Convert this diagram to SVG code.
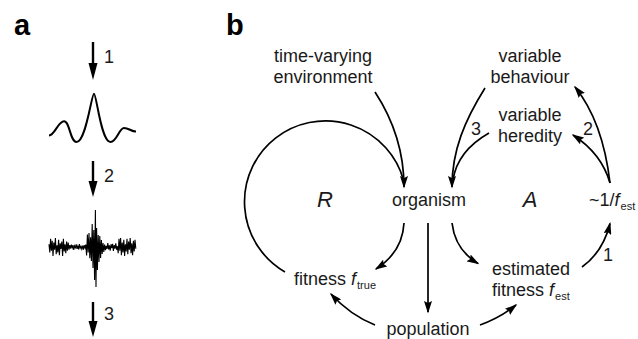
<svg xmlns="http://www.w3.org/2000/svg" width="638" height="339" viewBox="0 0 638 339">
<defs>
<style>
.t{font-family:"Liberation Sans",Arial,sans-serif;font-size:18px;fill:#1a1a1a}
.big{font-size:22px;font-style:italic}
.lbl{font-family:"Liberation Sans",Arial,sans-serif;font-size:29px;font-weight:bold;fill:#000}
.sub{font-size:11px}
.c{fill:none;stroke:#000;stroke-width:1.7}
.ca{fill:none;stroke:#000;stroke-width:1.7;marker-end:url(#ah)}
.pa{fill:none;stroke:#000;stroke-width:2.4}
.head{fill:#000}
</style>
<marker id="ah" markerUnits="userSpaceOnUse" markerWidth="13" markerHeight="8" refX="11" refY="4" orient="auto">
<path d="M0,0 L12.5,4 L0,8 L2,4 z" fill="#000"/>
</marker>
</defs>
<rect width="638" height="339" fill="#fff"/>

<g id="panel-a">
<text class="lbl" x="14" y="35">a</text>
<line class="pa" x1="93" y1="42" x2="93" y2="66"/>
<polygon class="head" points="88.5,63 97.5,63 93,80"/>
<text class="t" x="104" y="63">1</text>
<path d="M49,135.5 C55,135 58,121.3 64,121.3 C70,121.3 70,142 76.5,142 C86,142 91.5,93.7 94,93.7 C96.5,93.7 101,142 110.5,142 C117,142 119,128 124,128 C129,128 131,131.5 136,131.5" fill="none" stroke="#000" stroke-width="2"/>
<line class="pa" x1="93" y1="161" x2="93" y2="184"/>
<polygon class="head" points="88.5,181 97.5,181 93,197"/>
<text class="t" x="104" y="182">2</text>
<polyline fill="none" stroke="#000" stroke-width="1.1" points="49.0,244.3 49.8,252.4 50.6,238.9 51.4,250.6 52.2,240.7 53.0,256 53.8,242.5 54.6,249.7 55.4,238 56.2,254.2 57.0,245.2 57.8,252.4 58.6,239.8 59.4,255.1 60.2,243.4 61.0,248.8 61.8,241.6 62.6,256 63.4,238.9 64.2,251.5 65.0,244.3 65.8,253.3 66.6,241.6 67.4,250.6 68.2,242.5 69.0,249.7 69.8,245.2 70.6,248.5 71.4,244.6 72.2,247.9 73.0,245.2 73.8,250 74.6,245.8 75.4,247.6 76.2,244.3 77.0,248.8 77.8,246.1 78.6,249.4 79.4,244 80.2,248.2 81.0,246.4 81.8,249.1 82.6,245.5 83.4,249.7 84.2,245.2 85.0,247.9 85.8,244.6 86.6,255.4 87.4,234.4 88.2,252.6 89.0,233 89.8,258.2 90.6,237.2 91.4,261 92.2,224 93.0,268 93.8,230 94.6,280 95.4,210 96.0,287 96.6,228 97.4,270 98.2,235 99.0,262 99.8,236 100.6,258 101.4,240 102.2,254 103.0,243 103.8,252 104.6,244.6 105.4,250.2 106.2,245.8 107.0,249 107.8,243 108.6,249.4 109.4,245.4 110.2,250.6 111.0,244.2 111.8,248.2 112.6,243.8 113.4,251 114.2,245 115.0,248.6 115.8,243.4 116.6,249.8 117.4,246.2 118.2,253.3 119.0,238.9 119.8,250.6 120.6,238 121.4,255.1 122.2,242.5 123.0,252.4 123.8,239.8 124.6,256 125.4,244.3 126.2,251.5 127.0,238.9 127.8,254.2 128.6,241.6 129.4,249.7 130.2,238 131.0,253.3 131.8,243.4 132.6,255.1 133.4,240.7 134.2,251.5 135.0,239.8 135.8,248.8"/>
<line class="pa" x1="93" y1="302" x2="93" y2="324"/>
<polygon class="head" points="88.5,321 97.5,321 93,337"/>
<text class="t" x="104" y="320">3</text>
</g>

<text class="lbl" x="226" y="35">b</text>

<g id="connectors">
<path class="c" d="M285,272 A81,81 0 1 1 403.5,180"/>
<path class="ca" d="M375,92 C392,118 404,150 404,187"/>
<path class="ca" d="M404,223 C403,243 393,258 376,269"/>
<path class="ca" d="M428,223 L428,312"/>
<path class="ca" d="M375,325 Q350,315 331,294"/>
<path class="ca" d="M480,325 Q500,318 516,305"/>
<path class="ca" d="M452,223 C454,240 462,254 478,263.5"/>
<path class="ca" d="M582,267 Q603,252 610,223.5"/>
<path class="ca" d="M610,183 C605,140 592,108 575,87"/>
<path class="ca" d="M610,183 C604,162 590,146 573,135"/>
<path class="ca" d="M485,88 C465,120 452,150 452,187"/>
<path class="c" d="M489,133 C468,145 456,160 453,180"/>
<text class="t" x="471" y="135">3</text>
<text class="t" x="583" y="135">2</text>
<text class="t" x="603" y="261">1</text>
</g>

<g id="node-environment">
<text class="t" text-anchor="middle" x="323" y="62">time-varying</text>
<text class="t" text-anchor="middle" x="323" y="83">environment</text>
</g>
<g id="node-behaviour">
<text class="t" text-anchor="middle" x="530" y="62">variable</text>
<text class="t" text-anchor="middle" x="530" y="83">behaviour</text>
</g>
<g id="node-heredity">
<text class="t" text-anchor="middle" x="530" y="121">variable</text>
<text class="t" text-anchor="middle" x="530" y="142">heredity</text>
</g>
<g id="node-R">
<text class="t big" text-anchor="middle" x="325" y="207">R</text>
</g>
<g id="node-organism">
<text class="t" text-anchor="middle" x="429" y="206">organism</text>
</g>
<g id="node-A">
<text class="t big" text-anchor="middle" x="530" y="207">A</text>
</g>
<g id="node-inverse">
<text class="t" x="589" y="206">~1/<tspan font-style="italic">f</tspan><tspan class="sub" dx="1" dy="4">est</tspan></text>
</g>
<g id="node-fitness-true">
<text class="t" x="294" y="285">fitness <tspan font-style="italic">f</tspan><tspan class="sub" dx="1" dy="4">true</tspan></text>
</g>
<g id="node-fitness-est">
<text class="t" x="492" y="275">estimated</text>
<text class="t" x="492" y="296">fitness <tspan font-style="italic">f</tspan><tspan class="sub" dx="1" dy="4">est</tspan></text>
</g>
<g id="node-population">
<text class="t" text-anchor="middle" x="428" y="335">population</text>
</g>
</svg>
